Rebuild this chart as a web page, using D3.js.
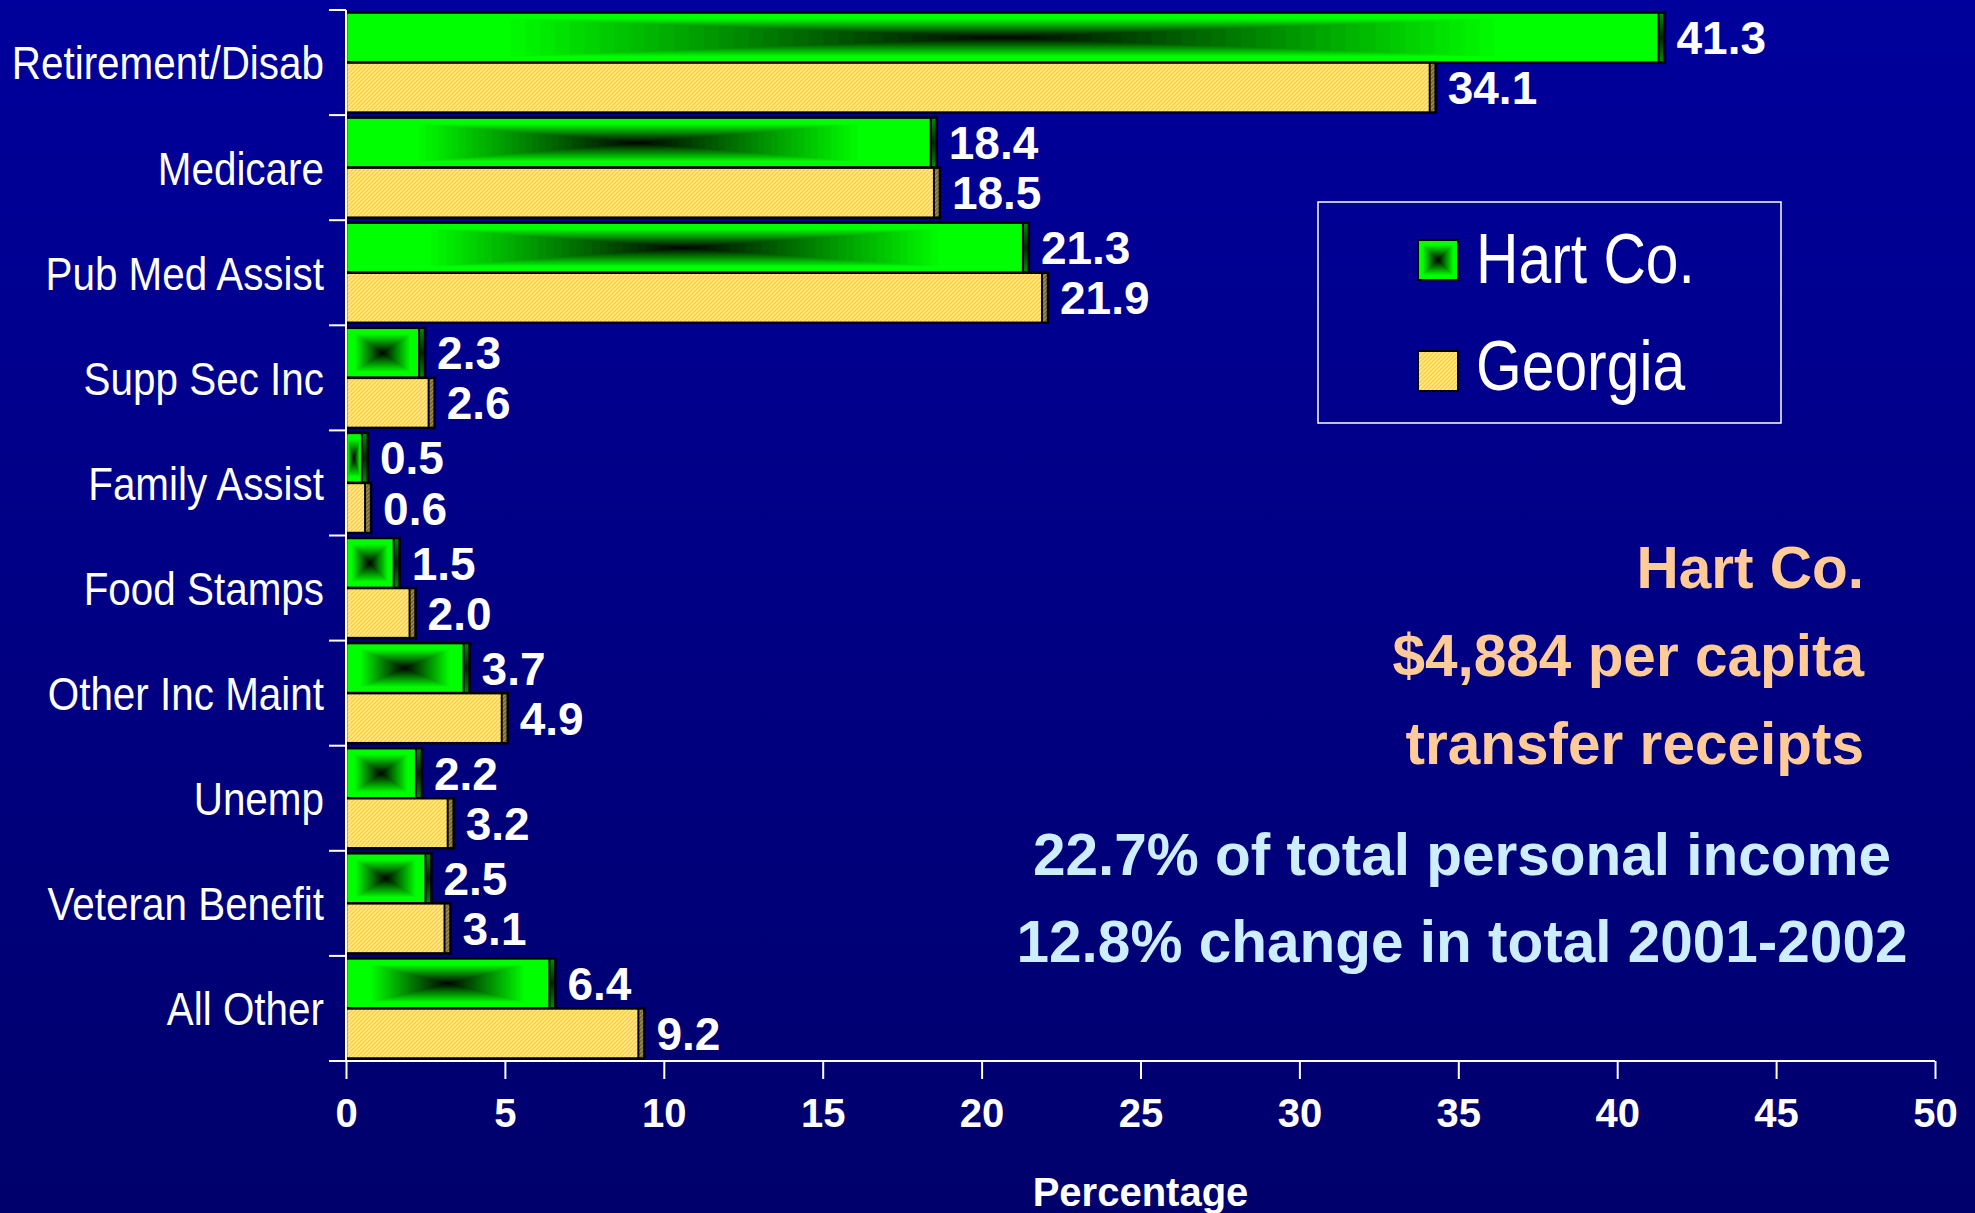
<!DOCTYPE html>
<html>
<head>
<meta charset="utf-8">
<script src="https://cdn.jsdelivr.net/npm/d3@7"></script>
<style>
body { margin: 0; overflow: hidden; background: #000080; }
</style>
</head>
<body>
<script>
// chart values
var categories = ["Retirement/Disab", "Medicare", "Pub Med Assist", "Supp Sec Inc", "Family Assist",
	"Food Stamps", "Other Inc Maint", "Unemp", "Veteran Benefit", "All Other"];
var hartValues = [41.3, 18.4, 21.3, 2.3, 0.5, 1.5, 3.7, 2.2, 2.5, 6.4];
var georgiaValues = [34.1, 18.5, 21.9, 2.6, 0.6, 2.0, 4.9, 3.2, 3.1, 9.2];
var seriesNames = ["Hart Co.", "Georgia"];
var xTicks = [0, 5, 10, 15, 20, 25, 30, 35, 40, 45, 50];
var xTitle = "Percentage";
var peachNotes = ["Hart Co.", "$4,884 per capita", "transfer receipts"];
var blueNotes = ["22.7% of total personal income", "12.8% change in total 2001-2002"];

var W = 1975, H = 1213;
var sideW = 6;   // the little 3d side at the end of each bar

var svg = d3.select("body").append("svg")
	.attr("width", W)
	.attr("height", H);

var defs = svg.append("defs");

//slide background
var bg = defs.append("linearGradient").attr("id", "bg")
	.attr("x1", 0).attr("y1", 0).attr("x2", 0).attr("y2", 1);
bg.append("stop").attr("offset", "0%").attr("stop-color", "#00009c");
bg.append("stop").attr("offset", "100%").attr("stop-color", "#00006c");
svg.append("rect").attr("width", W).attr("height", H).attr("fill", "url(#bg)");

//hatched fill of the Georgia bars
function hatch(id, base, line){
	var p = defs.append("pattern").attr("id", id)
		.attr("patternUnits", "userSpaceOnUse")
		.attr("width", 4).attr("height", 4);
	p.append("rect").attr("width", 4).attr("height", 4).attr("fill", base);
	p.append("path").attr("d", "M0,4 L4,0 M-1,1 L1,-1 M3,5 L5,3")
		.attr("stroke", line).attr("stroke-width", 1.2);
}
hatch("gaHatch", "#fcd045", "#fff0b0");
hatch("gaSide", "#7a6630", "#a8945a");

var sideGreen = defs.append("linearGradient").attr("id", "sideGreen")
	.attr("x1", 0).attr("y1", 0).attr("x2", 0).attr("y2", 1);
sideGreen.append("stop").attr("offset", "0%").attr("stop-color", "#009000");
sideGreen.append("stop").attr("offset", "50%").attr("stop-color", "#002800");
sideGreen.append("stop").attr("offset", "100%").attr("stop-color", "#009000");

//rectangular "from centre" gradient, drawn as nested rectangles
function rectGradient(g, x0, y0, w, h){
	var n = 44;
	var cx = x0 + w / 2, cy = y0 + h / 2;
	var steps = d3.range(n).map(function(k){ return 1 - k / n; });
	g.selectAll(null).data(steps).enter().append("rect")
		.attr("x", function(t){ return cx - t * w / 2; })
		.attr("y", function(t){ return cy - t * h / 2; })
		.attr("width", function(t){ return t * w; })
		.attr("height", function(t){ return t * h; })
		.attr("fill", function(t){ return d3.rgb(0, Math.round(255 * Math.min(1, 1.3 * t)), 0); });
}

var x = d3.scaleLinear().domain([0, 50]).range([346, 1935]);
var y = d3.scaleBand().domain(categories).range([10, 1061]);
var sub = d3.scaleBand().domain(seriesNames).range([0, y.bandwidth()]).paddingOuter(0.05);

var rows = categories.map(function(c, i){
	return {cat: c, hart: hartValues[i], georgia: georgiaValues[i]};
});

var plot = svg.append("g");

rows.forEach(function(d){
	var yH = y(d.cat) + sub("Hart Co."), yG = y(d.cat) + sub("Georgia");
	var bh = sub.bandwidth();
	var x0 = x(0);

	//Hart Co. bar
	var gH = plot.append("g");
	rectGradient(gH, x0, yH, x(d.hart) - x0, bh);
	gH.append("rect").attr("x", x(d.hart)).attr("y", yH)
		.attr("width", sideW).attr("height", bh).attr("fill", "url(#sideGreen)");
	gH.append("rect").attr("x", x0).attr("y", yH)
		.attr("width", x(d.hart) - x0 + sideW).attr("height", bh)
		.attr("fill", "none").attr("stroke", "#000").attr("stroke-width", 2.5);
	gH.append("line").attr("x1", x(d.hart)).attr("x2", x(d.hart))
		.attr("y1", yH).attr("y2", yH + bh).attr("stroke", "#000").attr("stroke-width", 2);

	//Georgia bar
	var gG = plot.append("g");
	gG.append("rect").attr("x", x0).attr("y", yG)
		.attr("width", x(d.georgia) - x0).attr("height", bh).attr("fill", "url(#gaHatch)");
	gG.append("rect").attr("x", x(d.georgia)).attr("y", yG)
		.attr("width", sideW).attr("height", bh).attr("fill", "url(#gaSide)");
	gG.append("rect").attr("x", x0).attr("y", yG)
		.attr("width", x(d.georgia) - x0 + sideW).attr("height", bh)
		.attr("fill", "none").attr("stroke", "#000").attr("stroke-width", 2.5);
	gG.append("line").attr("x1", x(d.georgia)).attr("x2", x(d.georgia))
		.attr("y1", yG).attr("y2", yG + bh).attr("stroke", "#000").attr("stroke-width", 2);

	//value labels
	[["Hart Co.", d.hart, yH], ["Georgia", d.georgia, yG]].forEach(function(s){
		plot.append("text")
			.attr("x", x(s[1]) + sideW + 12)
			.attr("y", s[2] + bh / 2)
			.attr("dy", "0.36em")
			.style("font-family", "'Liberation Sans', Arial, sans-serif")
			.style("font-weight", "bold")
			.style("font-size", "46px")
			.style("fill", "#fff")
			.text(s[1].toFixed(1));
	});
});

//y axis
var yAxis = svg.append("g");
yAxis.append("line").attr("x1", x(0)).attr("x2", x(0))
	.attr("y1", y.range()[0]).attr("y2", y.range()[1])
	.attr("stroke", "#fff").attr("stroke-width", 2);
var bounds = categories.map(function(c){ return y(c); }).concat([y.range()[1]]);
yAxis.selectAll(".ytick").data(bounds).enter().append("line")
	.attr("x1", x(0) - 17).attr("x2", x(0))
	.attr("y1", function(v){ return v; }).attr("y2", function(v){ return v; })
	.attr("stroke", "#fff").attr("stroke-width", 2);
yAxis.selectAll(".ylab").data(categories).enter().append("text")
	.attr("transform", function(c){ return "translate(324," + (y(c) + y.bandwidth() / 2) + ") scale(0.86,1)"; })
	.attr("dy", "0.36em")
	.attr("text-anchor", "end")
	.style("font-family", "'Liberation Sans', Arial, sans-serif")
	.style("font-size", "47px")
	.style("fill", "#fff")
	.text(function(c){ return c; });

//x axis
var xAxisG = svg.append("g")
	.attr("transform", "translate(0," + y.range()[1] + ")")
	.call(d3.axisBottom(x).tickValues(xTicks).tickSize(18).tickPadding(20));
xAxisG.select(".domain").remove();
xAxisG.selectAll(".tick line").attr("stroke", "#fff").attr("stroke-width", 2);
xAxisG.selectAll(".tick text")
	.style("font-family", "'Liberation Sans', Arial, sans-serif")
	.style("font-weight", "bold")
	.style("font-size", "40px")
	.style("fill", "#fff");
xAxisG.append("line").attr("x1", x(0) - 17).attr("x2", x(50))
	.attr("stroke", "#fff").attr("stroke-width", 2);

svg.append("text")
	.attr("x", (x(0) + x(50)) / 2)
	.attr("y", 1206)
	.attr("text-anchor", "middle")
	.style("font-family", "'Liberation Sans', Arial, sans-serif")
	.style("font-weight", "bold")
	.style("font-size", "40px")
	.style("fill", "#fff")
	.text(xTitle);

//legend
var legend = svg.append("g");
legend.append("rect").attr("x", 1318).attr("y", 202).attr("width", 463).attr("height", 221)
	.attr("fill", "none").attr("stroke", "#fff").attr("stroke-width", 1.5);
var lg0 = legend.append("g");
rectGradient(lg0, 1418, 240, 40, 40);
lg0.append("rect").attr("x", 1418).attr("y", 240).attr("width", 40).attr("height", 40)
	.attr("fill", "none").attr("stroke", "#000").attr("stroke-width", 2);
legend.append("rect").attr("x", 1418).attr("y", 351).attr("width", 40).attr("height", 40)
	.attr("fill", "url(#gaHatch)").attr("stroke", "#000").attr("stroke-width", 2);
legend.selectAll(".ltext").data(seriesNames).enter().append("text")
	.attr("transform", function(s, i){ return "translate(1476," + (283 + i * 107) + ") scale(0.84,1)"; })
	.style("font-family", "'Liberation Sans', Arial, sans-serif")
	.style("font-size", "70px")
	.style("fill", "#fff")
	.text(function(s){ return s; });

//notes
svg.selectAll(".peach").data(peachNotes).enter().append("text")
	.attr("x", 1864)
	.attr("y", function(s, i){ return 588 + i * 88; })
	.attr("text-anchor", "end")
	.style("font-family", "'Liberation Sans', Arial, sans-serif")
	.style("font-weight", "bold")
	.style("font-size", "58.5px")
	.style("fill", "#ffcc99")
	.text(function(s){ return s; });
svg.selectAll(".blue").data(blueNotes).enter().append("text")
	.attr("x", 1462)
	.attr("y", function(s, i){ return 875 + i * 87; })
	.attr("text-anchor", "middle")
	.style("font-family", "'Liberation Sans', Arial, sans-serif")
	.style("font-weight", "bold")
	.style("font-size", "58.5px")
	.style("fill", "#cceeff")
	.text(function(s){ return s; });
</script>
</body>
</html>
